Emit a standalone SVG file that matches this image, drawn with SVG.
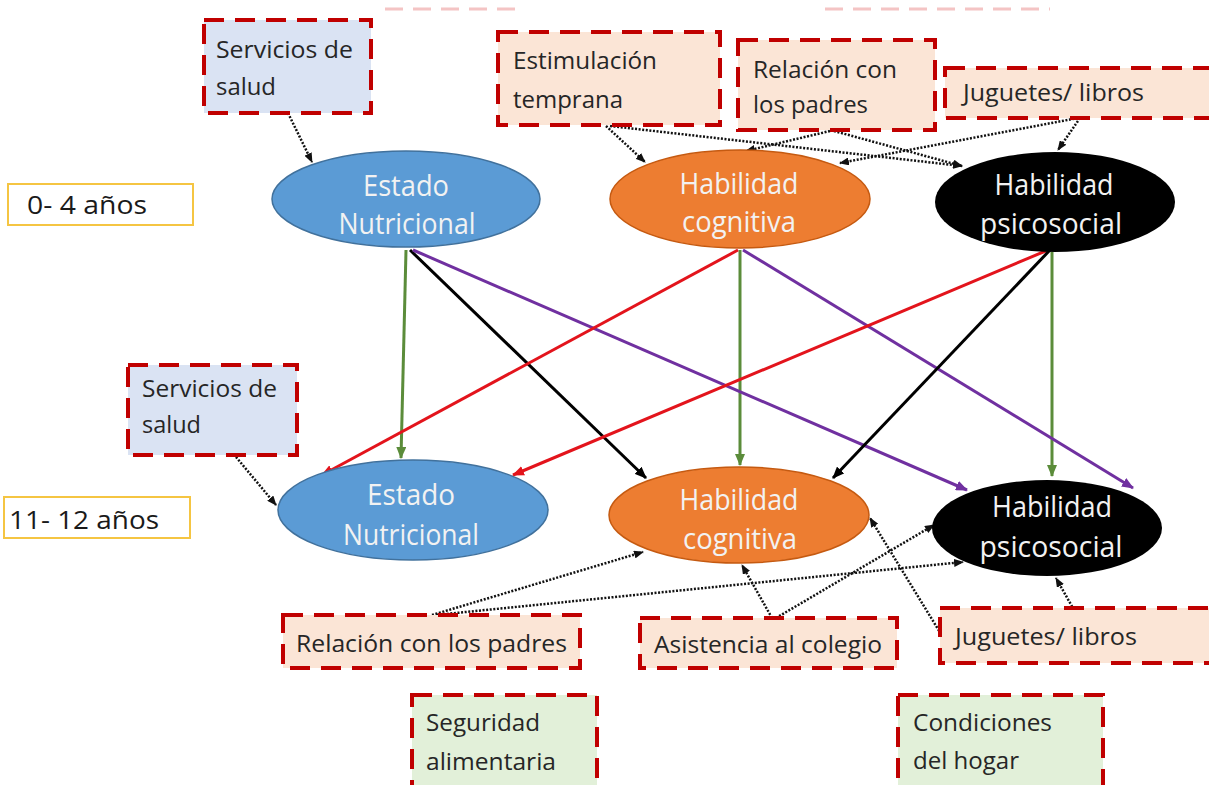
<svg xmlns="http://www.w3.org/2000/svg" width="1209" height="785" viewBox="0 0 1209 785">
<defs>
<style>
.box{stroke:#c00000;stroke-width:4;stroke-dasharray:20 11;}
.blue{fill:#dae3f3;}
.peach{fill:#fbe5d6;}
.green{fill:#e2f0d9;}
.bt{font-family:"Open Sans","Liberation Sans",sans-serif;font-size:23px;fill:#262626;}
.et{font-family:"Open Sans","Liberation Sans",sans-serif;font-size:29px;fill:#f2f2f2;text-anchor:middle;}
.age{fill:#fff;stroke:#f5c542;stroke-width:2;}
.at{font-family:"Open Sans","Liberation Sans",sans-serif;font-size:25px;fill:#1a1a1a;}
.sol{fill:none;stroke-width:3;}
.dot{fill:none;stroke:#111;stroke-width:2.5;stroke-dasharray:2 1.6;}
</style>
<marker id="mg" markerUnits="userSpaceOnUse" markerWidth="12" markerHeight="10" refX="11" refY="5" orient="auto"><path d="M0,0 L12,5 L0,10 z" fill="#5b8c3a"/></marker>
<marker id="mk" markerUnits="userSpaceOnUse" markerWidth="12" markerHeight="10" refX="11" refY="5" orient="auto"><path d="M0,0 L12,5 L0,10 z" fill="#000"/></marker>
<marker id="mp" markerUnits="userSpaceOnUse" markerWidth="12" markerHeight="10" refX="11" refY="5" orient="auto"><path d="M0,0 L12,5 L0,10 z" fill="#7030a0"/></marker>
<marker id="mr" markerUnits="userSpaceOnUse" markerWidth="12" markerHeight="10" refX="11" refY="5" orient="auto"><path d="M0,0 L12,5 L0,10 z" fill="#e3141c"/></marker>
<marker id="md" markerUnits="userSpaceOnUse" markerWidth="10" markerHeight="8" refX="9" refY="4" orient="auto"><path d="M0,0 L10,4 L0,8 z" fill="#111"/></marker>
</defs>
<rect width="1209" height="785" fill="#fff"/>

<!-- faint remnants at top -->
<line x1="385" y1="9" x2="515" y2="9" stroke="#f4c4c4" stroke-width="3" stroke-dasharray="18 10"/>
<line x1="825" y1="9" x2="1050" y2="9" stroke="#f4c4c4" stroke-width="3" stroke-dasharray="18 10"/>

<g id="age-0-4"><rect class="age" x="8" y="184" width="185" height="41"/><text class="at" x="27" y="214" textLength="120" lengthAdjust="spacingAndGlyphs">0- 4 años</text></g>
<g id="age-11-12"><rect class="age" x="4" y="497" width="186" height="41"/><text class="at" x="9" y="529" textLength="150" lengthAdjust="spacingAndGlyphs">11- 12 años</text></g>

<g id="connectors">
<path class="sol" stroke="#5b8c3a" marker-end="url(#mg)" d="M406,250 L401,458"/>
<path class="sol" stroke="#5b8c3a" marker-end="url(#mg)" d="M740,250 L740,465"/>
<path class="sol" stroke="#5b8c3a" marker-end="url(#mg)" d="M1052,252 L1052,476"/>
<path class="sol" stroke="#000" marker-end="url(#mk)" d="M410,250 L646,478"/>
<path class="sol" stroke="#7030a0" marker-end="url(#mp)" d="M413,250 L967,490"/>
<path class="sol" stroke="#e3141c" marker-end="url(#mr)" d="M738,250 L322,475"/>
<path class="sol" stroke="#7030a0" marker-end="url(#mp)" d="M743,250 L1133,488"/>
<path class="sol" stroke="#e3141c" marker-end="url(#mr)" d="M1048,250 L513,475"/>
<path class="sol" stroke="#000" marker-end="url(#mk)" d="M1050,250 L833,478"/>
<path class="dot" marker-end="url(#md)" d="M288,113 L312,162"/>
<path class="dot" marker-end="url(#md)" d="M606,126 L645,162"/>
<path class="dot" marker-end="url(#md)" d="M610,126 L962,166"/>
<path class="dot" marker-end="url(#md)" d="M830,131 L746,151"/>
<path class="dot" marker-end="url(#md)" d="M834,131 L962,166"/>
<path class="dot" marker-end="url(#md)" d="M1078,118 L840,163"/>
<path class="dot" marker-end="url(#md)" d="M1080,118 L1058,150"/>
<path class="dot" marker-end="url(#md)" d="M236,457 L276,505"/>
<path class="dot" marker-end="url(#md)" d="M432,615 L643,552"/>
<path class="dot" marker-end="url(#md)" d="M436,615 L963,562"/>
<path class="dot" marker-end="url(#md)" d="M772,618 L742,565"/>
<path class="dot" marker-end="url(#md)" d="M776,618 L934,525"/>
<path class="dot" marker-end="url(#md)" d="M941,634 L870,518"/>
<path class="dot" marker-end="url(#md)" d="M1074,610 L1056,578"/>
</g>

<g id="en-top"><ellipse cx="406" cy="199" rx="134" ry="48" fill="#5b9bd5" stroke="#41719c" stroke-width="1.5"/><text class="et" x="406" y="196" textLength="86" lengthAdjust="spacingAndGlyphs">Estado</text><text class="et" x="407" y="234" textLength="137" lengthAdjust="spacingAndGlyphs">Nutricional</text></g>
<g id="hc-top"><ellipse cx="740" cy="199" rx="130" ry="49" fill="#ed7d31" stroke="#c55a11" stroke-width="1.5"/><text class="et" x="739" y="194" textLength="119" lengthAdjust="spacingAndGlyphs">Habilidad</text><text class="et" x="739" y="232" textLength="114" lengthAdjust="spacingAndGlyphs">cognitiva</text></g>
<g id="hp-top"><ellipse cx="1055" cy="202" rx="120" ry="50" fill="#000"/><text class="et" x="1054" y="195" textLength="119" lengthAdjust="spacingAndGlyphs">Habilidad</text><text class="et" x="1051" y="234" textLength="142" lengthAdjust="spacingAndGlyphs">psicosocial</text></g>
<g id="en-bot"><ellipse cx="413" cy="510" rx="135" ry="50" fill="#5b9bd5" stroke="#41719c" stroke-width="1.5"/><text class="et" x="411" y="505" textLength="88" lengthAdjust="spacingAndGlyphs">Estado</text><text class="et" x="411" y="545" textLength="136" lengthAdjust="spacingAndGlyphs">Nutricional</text></g>
<g id="hc-bot"><ellipse cx="739" cy="515" rx="130" ry="48" fill="#ed7d31" stroke="#c55a11" stroke-width="1.5"/><text class="et" x="739" y="510" textLength="119" lengthAdjust="spacingAndGlyphs">Habilidad</text><text class="et" x="740" y="549" textLength="114" lengthAdjust="spacingAndGlyphs">cognitiva</text></g>
<g id="hp-bot"><ellipse cx="1047" cy="528" rx="115" ry="48" fill="#000"/><text class="et" x="1052" y="517" textLength="120" lengthAdjust="spacingAndGlyphs">Habilidad</text><text class="et" x="1051" y="557" textLength="143" lengthAdjust="spacingAndGlyphs">psicosocial</text></g>

<g id="servicios-top"><rect class="box blue" x="204" y="20" width="167" height="93"/><text class="bt" x="216" y="58" textLength="137" lengthAdjust="spacingAndGlyphs">Servicios de</text><text class="bt" x="216" y="95" textLength="60" lengthAdjust="spacingAndGlyphs">salud</text></g>
<g id="estimulacion"><rect class="box peach" x="498" y="32" width="222" height="93"/><text class="bt" x="513" y="69" textLength="144" lengthAdjust="spacingAndGlyphs">Estimulación</text><text class="bt" x="513" y="108" textLength="110" lengthAdjust="spacingAndGlyphs">temprana</text></g>
<g id="relacion-top"><rect class="box peach" x="738" y="40" width="197" height="90"/><text class="bt" x="753" y="78" textLength="144" lengthAdjust="spacingAndGlyphs">Relación con</text><text class="bt" x="753" y="113" textLength="115" lengthAdjust="spacingAndGlyphs">los padres</text></g>
<g id="juguetes-top"><rect class="box peach" x="945" y="68" width="280" height="50"/><text class="bt" x="963" y="101" textLength="181" lengthAdjust="spacingAndGlyphs">Juguetes/ libros</text></g>
<g id="servicios-bot"><rect class="box blue" x="128" y="365" width="169" height="90"/><text class="bt" x="142" y="397" textLength="135" lengthAdjust="spacingAndGlyphs">Servicios de</text><text class="bt" x="142" y="433" textLength="59" lengthAdjust="spacingAndGlyphs">salud</text></g>
<g id="relacion-bot"><rect class="box peach" x="283" y="615" width="297" height="53"/><text class="bt" x="296" y="652" textLength="271" lengthAdjust="spacingAndGlyphs">Relación con los padres</text></g>
<g id="asistencia"><rect class="box peach" x="640" y="618" width="257" height="50"/><text class="bt" x="654" y="653" textLength="228" lengthAdjust="spacingAndGlyphs">Asistencia al colegio</text></g>
<g id="juguetes-bot"><rect class="box peach" x="940" y="608" width="285" height="55"/><text class="bt" x="955" y="645" textLength="182" lengthAdjust="spacingAndGlyphs">Juguetes/ libros</text></g>
<g id="seguridad"><rect class="box green" x="412" y="695" width="185" height="100"/><text class="bt" x="426" y="731" textLength="114" lengthAdjust="spacingAndGlyphs">Seguridad</text><text class="bt" x="426" y="770" textLength="130" lengthAdjust="spacingAndGlyphs">alimentaria</text></g>
<g id="condiciones"><rect class="box green" x="898" y="695" width="205" height="100"/><text class="bt" x="913" y="731" textLength="139" lengthAdjust="spacingAndGlyphs">Condiciones</text><text class="bt" x="913" y="769" textLength="106" lengthAdjust="spacingAndGlyphs">del hogar</text></g>
</svg>
